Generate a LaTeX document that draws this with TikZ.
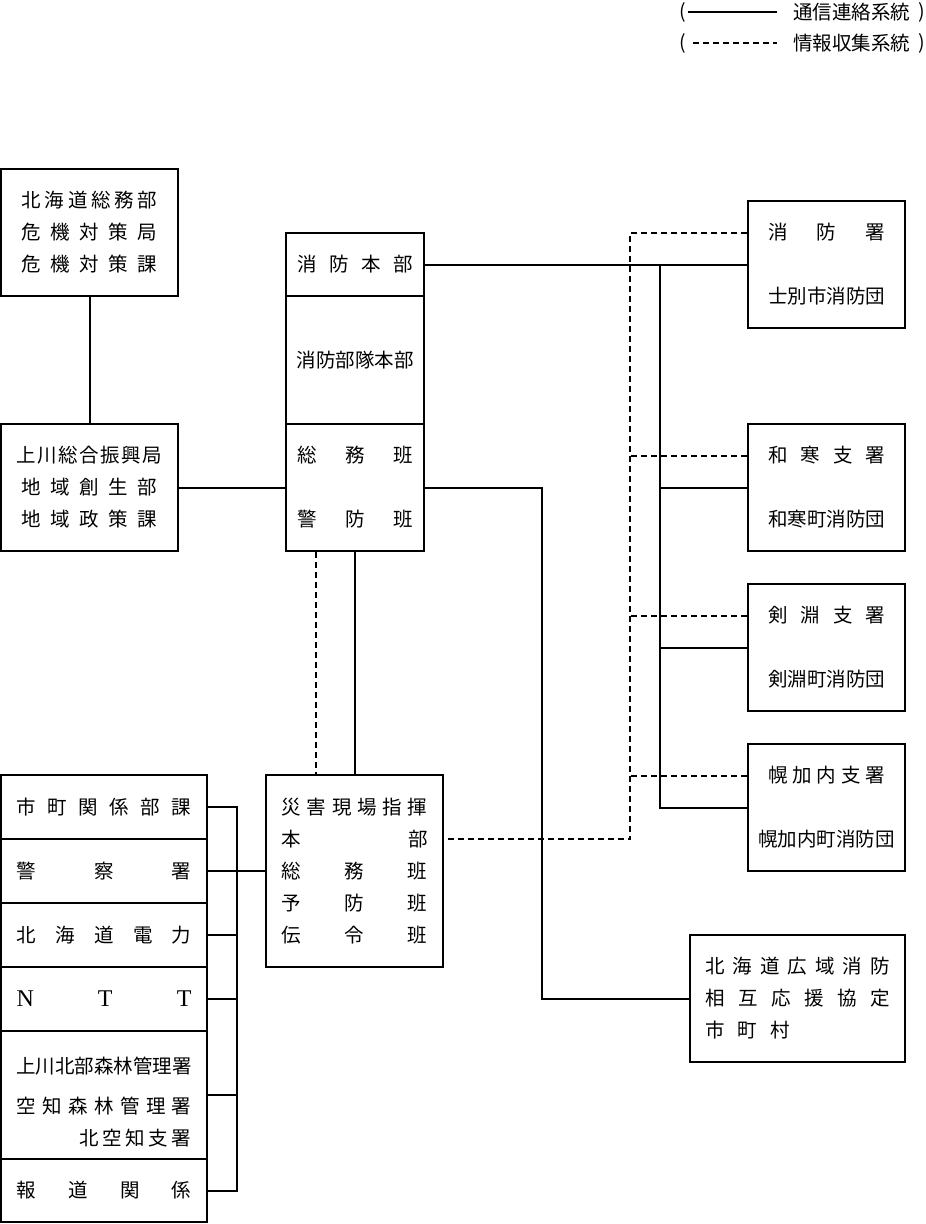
\documentclass[tikz,border=0pt]{standalone}
\usepackage{fontspec}
\setmainfont{Noto Sans CJK JP}
\newfontfamily\latinserif{Liberation Serif}
\usetikzlibrary{calc}

% spread the characters of #2 evenly over the width #1
\makeatletter
\newcommand\spreadchars[2]{\makebox[#1]{\spread@first#2\@nil}}
\def\spread@first#1{#1\spread@rest}
\def\spread@rest#1{\ifx#1\@nil\else\hfill#1\expandafter\spread@rest\fi}
\makeatother

\begin{document}
\begin{tikzpicture}[
      x=1pt, y=-1pt,
      every node/.style={font=\fontsize{19.5pt}{32pt}\selectfont},
      box/.style={draw, line width=2pt, inner sep=0pt, align=center},
      station/.style={box, minimum width=157pt, minimum height=127pt, font=\fontsize{19.5pt}{64pt}\selectfont},
      cell/.style={box, minimum width=206pt, minimum height=64pt},
      legtext/.style={inner sep=0pt},
      link/.style={line width=2pt},
      info/.style={line width=2pt, dash pattern=on 6pt off 4pt}
    ]
      \useasboundingbox (0,0) rectangle (926,1224);

      % legend
      \node[legtext, anchor=east] (lpA) at (686,12) {(};
      \node[legtext, anchor=west] (legA) at (793,12) {通信連絡系統};
      \node[legtext, anchor=east] (rpA) at (925,12) {)};
      \draw[link, shorten <=2pt, shorten >=16pt] (lpA.east) -- (legA.west);
      \node[legtext, anchor=east] (lpB) at (686,43) {(};
      \node[legtext, anchor=west] (legB) at (793,43) {情報収集系統};
      \node[legtext, anchor=east] (rpB) at (925,43) {)};
      \draw[info, shorten <=7pt, shorten >=16pt] (lpB.east) -- (legB.west);

      % prefecture offices
      \node[box, minimum width=177pt, minimum height=127pt] (pref) at (89.5,232.5)
        {\spreadchars{136pt}{北海道総務部}\\ \spreadchars{136pt}{危機対策局}\\ \spreadchars{136pt}{危機対策課}};
      \node[box, minimum width=177pt, minimum height=127pt] (subpref) at (89.5,487.5)
        {\spreadchars{146pt}{上川総合振興局}\\ \spreadchars{136pt}{地域創生部}\\ \spreadchars{136pt}{地域政策課}};

      % fire headquarters stack
      \node[box, minimum width=138pt, minimum height=63pt] (hq) at (355,264.5) {\spreadchars{116pt}{消防本部}};
      \node[box, minimum width=138pt, minimum height=128pt] (corps) at (355,360) {消防部隊本部};
      \node[box, minimum width=138pt, minimum height=127pt, font=\fontsize{19.5pt}{64pt}\selectfont] (staff) at (355,487.5)
        {\spreadchars{116pt}{総務班}\\ \spreadchars{116pt}{警防班}};

      % on-site command
      \node[box, minimum width=177pt, minimum height=192pt] (site) at (354.5,871)
        {\spreadchars{146pt}{災害現場指揮}\\ \spreadchars{146pt}{本部}\\ \spreadchars{146pt}{総務班}\\
         \spreadchars{146pt}{予防班}\\ \spreadchars{146pt}{伝令班}};

      % stations
      \node[station] (st1) at (826.5,264.5) {\spreadchars{117pt}{消防署}\\ 士別市消防団};
      \node[station] (st2) at (826.5,487.5) {\spreadchars{117pt}{和寒支署}\\ 和寒町消防団};
      \node[station] (st3) at (826.5,647.5) {\spreadchars{117pt}{剣淵支署}\\ 剣淵町消防団};
      \node[station] (st4) at (826.5,807.5) {\spreadchars{117pt}{幌加内支署}\\ 幌加内町消防団};

      % mutual aid
      \node[box, minimum width=215pt, minimum height=127pt] (wide) at (797.5,998.5)
        {\spreadchars{185pt}{北海道広域消防}\\ \spreadchars{185pt}{相互応援協定}\\ \makebox[185pt][l]{\spreadchars{85pt}{市町村}}};

      % related bodies
      \node[cell] (org1) at (104,807) {\spreadchars{175pt}{市町関係部課}};
      \node[cell] (org2) at (104,871) {\spreadchars{175pt}{警察署}};
      \node[cell] (org3) at (104,935) {\spreadchars{175pt}{北海道電力}};
      \node[cell, font=\fontsize{24pt}{28pt}\selectfont] (org4) at (104,999) {\latinserif\spreadchars{175pt}{NTT}};
      \node[cell, minimum height=128pt] (org5) at (104,1095)
        {\rule{0pt}{31pt}\spreadchars{175pt}{上川北部森林管理署}\\[8pt] \spreadchars{175pt}{空知森林管理署}\\ \makebox[175pt][r]{\spreadchars{112pt}{北空知支署}}};
      \node[cell, minimum height=63pt] (org6) at (104,1190.5) {\spreadchars{175pt}{報道関係}};

      % bus lines
      \coordinate (busR) at (660,0);
      \coordinate (infoR) at (630,0);
      \coordinate (busW) at (542,0);
      \coordinate (busL) at (237,0);

      % communication links
      \draw[link] (pref) -- (subpref);
      \draw[link] (subpref) -- (staff);
      \draw[link] (hq) -- (st1);
      \draw[link] (hq.east -| busR) -- (st4.west -| busR) -- (st4.west);
      \draw[link] (st2.west -| busR) -- (st2.west);
      \draw[link] (st3.west -| busR) -- (st3.west);
      \draw[link] (staff.east) -- (staff.east -| busW) |- (wide.west);
      \draw[link] (staff.south) -- (staff.south |- site.north);
      \draw[link] (org1.east) -- (org1.east -| busL) -- (org6.east -| busL) -- (org6.east);
      \foreach \n in {2,...,5}
        \draw[link] (org\n.east) -- (org\n.east -| busL);
      \draw[link] (org2.east -| busL) -- (site.west);

      % information links
      \draw[info] ([xshift=-39pt]staff.south) -- ([xshift=-39pt]staff.south |- site.north);
      \draw[info] ([yshift=32pt]st1.west) -| ([yshift=32pt]site.east -| infoR) -- ([yshift=32pt]site.east);
      \foreach \n in {2,3,4}
        \draw[info] ([yshift=32pt]st\n.west) -- ([yshift=32pt]st\n.west -| infoR);
    \end{tikzpicture}
\end{document}
